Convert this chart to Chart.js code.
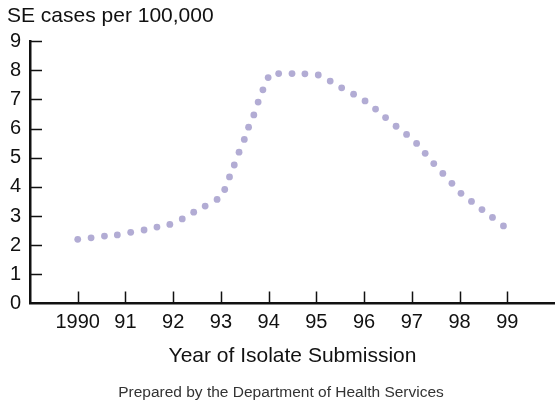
<!DOCTYPE html>
<html>
<head>
<meta charset="utf-8">
<title>SE cases per 100,000</title>
<script src="https://cdn.jsdelivr.net/npm/chart.js@4/dist/chart.umd.min.js"></script>
<style>
  html, body { margin: 0; padding: 0; background: #fff; }
  #wrap { width: 555px; height: 402px; }
</style>
</head>
<body>
<div id="wrap"><canvas id="seChart" width="555" height="402"></canvas></div>
<script>
// dotted trend (x = year, y = cases per 100,000)
const years = [
  1990.00, 1990.28, 1990.56, 1990.83, 1991.11, 1991.39, 1991.66, 1991.93,
  1992.19, 1992.43, 1992.67, 1992.92, 1993.08, 1993.18, 1993.28, 1993.38,
  1993.49, 1993.58, 1993.69, 1993.78, 1993.88, 1993.99, 1994.21, 1994.49,
  1994.76, 1995.04, 1995.29, 1995.53, 1995.78, 1996.02, 1996.24, 1996.45,
  1996.67, 1996.89, 1997.10, 1997.28, 1997.46, 1997.65, 1997.84, 1998.03,
  1998.25, 1998.47, 1998.69, 1998.92
];
const seCases = [
  2.20, 2.25, 2.31, 2.35, 2.44, 2.52, 2.62, 2.71,
  2.90, 3.13, 3.34, 3.57, 3.91, 4.34, 4.75, 5.19,
  5.63, 6.05, 6.47, 6.91, 7.33, 7.75, 7.89, 7.89,
  7.88, 7.84, 7.63, 7.40, 7.18, 6.95, 6.67, 6.38,
  6.08, 5.80, 5.49, 5.15, 4.80, 4.46, 4.12, 3.78,
  3.50, 3.22, 2.95, 2.66
];
const xTickValues = [1990, 1991, 1992, 1993, 1994, 1995, 1996, 1997, 1998, 1999];
const xTickLabels = ["1990", "91", "92", "93", "94", "95", "96", "97", "98", "99"];
const yTickValues = [1, 2, 3, 4, 5, 6, 7, 8, 9];

const FONT = "'Liberation Sans', Arial, Helvetica, sans-serif";
const INK = "#111";

// small tick marks that point into the plot, like the original
const innerTicks = {
  id: "innerTicks",
  afterDraw(chart) {
    const { ctx, chartArea, scales } = chart;
    ctx.save();
    ctx.strokeStyle = INK;
    ctx.lineWidth = 1.5;
    ctx.beginPath();
    xTickValues.forEach(v => {
      const px = Math.round(scales.x.getPixelForValue(v)) + 0.5;
      ctx.moveTo(px, chartArea.bottom);
      ctx.lineTo(px, chartArea.bottom - 12);
    });
    yTickValues.forEach(v => {
      const py = Math.round(scales.y.getPixelForValue(v)) + 0.5;
      ctx.moveTo(chartArea.left, py);
      ctx.lineTo(chartArea.left + 12, py);
    });
    ctx.stroke();
    ctx.restore();
  }
};

new Chart(document.getElementById("seChart"), {
  type: "scatter",
  data: {
    datasets: [{
      data: years.map((yr, i) => ({ x: yr, y: seCases[i] })),
      backgroundColor: "#b2acd4",
      borderWidth: 0,
      pointRadius: 3.4,
      pointHoverRadius: 3.4
    }]
  },
  options: {
    responsive: false,
    animation: false,
    layout: { autoPadding: false, padding: { left: 7, right: 0, top: 0, bottom: 0 } },
    plugins: {
      legend: { display: false },
      tooltip: { enabled: false },
      title: {
        display: true,
        text: "SE cases per 100,000",
        align: "start",
        color: INK,
        font: { family: FONT, size: 21, weight: "normal" },
        padding: { top: 4, bottom: 12 }
      },
      subtitle: {
        display: true,
        position: "bottom",
        text: "Prepared by the Department of Health Services",
        color: "#333",
        font: { family: FONT, size: 15.5, weight: "normal" },
        padding: { top: 0, bottom: 0 }
      }
    },
    scales: {
      x: {
        type: "linear",
        min: 1989,
        max: 2000,
        grid: { display: false, drawTicks: false },
        border: { display: true, color: INK, width: 2.5 },
        afterBuildTicks: s => { s.ticks = xTickValues.map(v => ({ value: v })); },
        afterFit: s => { s.height = 80; s.paddingLeft = 0; s.paddingRight = 0; },
        ticks: {
          padding: 7,
          color: INK,
          font: { family: FONT, size: 20 },
          maxRotation: 0,
          autoSkip: false,
          callback: v => xTickLabels[xTickValues.indexOf(v)]
        },
        title: {
          display: true,
          text: "Year of Isolate Submission",
          color: INK,
          font: { family: FONT, size: 21 },
          padding: { top: 0, bottom: 15 }
        }
      },
      y: {
        min: 0,
        max: 9,
        grid: { display: false, drawTicks: false },
        border: { display: true, color: INK, width: 2.5 },
        afterFit: s => { s.width = 23; },
        ticks: {
          stepSize: 1,
          padding: 9,
          color: INK,
          font: { family: FONT, size: 20 }
        }
      }
    }
  },
  plugins: [innerTicks]
});
</script>
</body>
</html>
